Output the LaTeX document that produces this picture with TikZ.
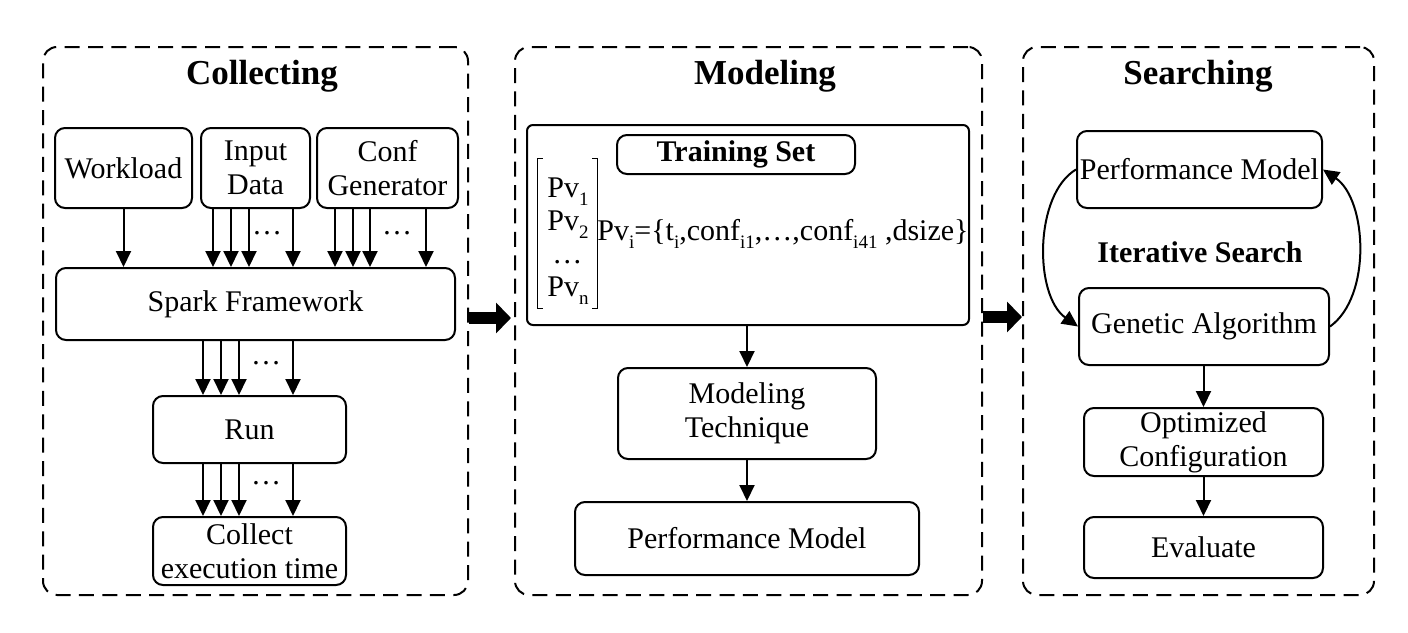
\documentclass[tikz,border=0pt]{standalone}
\usepackage{fontspec}
\setmainfont{Liberation Serif}
\usetikzlibrary{arrows.meta,calc}
\newcommand\nsz{\fontsize{15}{17}\selectfont}
\newcommand\tsz{\fontsize{17.5}{20}\selectfont\bfseries}
\newcommand\sbx[1]{\raisebox{-0.28em}{\fontsize{9.5}{10}\selectfont #1}}
\begin{document}
\begin{tikzpicture}[x=0.5pt,y=-0.5pt,
  panel/.style={draw,line width=1pt,dash pattern=on 7.5pt off 4.2pt,rounded corners=7pt,inner sep=0pt},
  box/.style={draw,line width=1pt,rounded corners=5pt,inner sep=0pt,align=center,font=\nsz},
  arr/.style={line width=1pt,-{Triangle[length=8pt,width=7.5pt]}},
  bigarr/.style={line width=6pt,-{Triangle[length=7.5pt,width=15pt]}},
  ttl/.style={font=\tsz,anchor=base,inner sep=0pt},
  lbl/.style={font=\nsz,inner sep=0pt}]
\useasboundingbox (0,0) rectangle (1408,632);
% panels
\node[panel,minimum width=212.5pt,minimum height=274pt] (col) at (255.5,321) {};
\node[panel,minimum width=233.5pt,minimum height=274pt] (mod) at (748.5,321) {};
\node[panel,minimum width=175.5pt,minimum height=274pt] (sea) at (1198.5,321) {};
\node[ttl] (tcol) at (262,84) {Collecting};
\node[ttl] (tmod) at (765,84) {Modeling};
\node[ttl] (tsea) at (1198,84) {Searching};
% collecting
\node[box,minimum width=68.5pt,minimum height=40pt] (wl) at (123.5,168) {Workload};
\node[box,minimum width=54.5pt,minimum height=40pt] (inp) at (255.5,168) {Input\\Data};
\node[box,minimum width=70.5pt,minimum height=40pt] (conf) at (387.5,168) {Conf\\Generator};
\node[box,minimum width=199.5pt,minimum height=36pt] (spark) at (255.5,304) {Spark Framework};
\node[box,minimum width=96.5pt,minimum height=33.5pt] (run) at (249.5,429.5) {Run};
\node[box,minimum width=96.5pt,minimum height=34pt] (coll) at (249.5,551) {Collect\\execution time};
\draw[arr] (wl.south) -- (wl.south |- spark.north);
\foreach \x [count=\i] in {213,231,249,293} {
  \coordinate (ia\i) at (\x,0);
  \draw[arr] (inp.south -| ia\i) -- (spark.north -| ia\i);}
\foreach \x [count=\i] in {335,353,370,426} {
  \coordinate (ca\i) at (\x,0);
  \draw[arr] (conf.south -| ca\i) -- (spark.north -| ca\i);}
\foreach \x [count=\i] in {203,221,239,293} {
  \coordinate (ra\i) at (\x,0);
  \draw[arr] (spark.south -| ra\i) -- (run.north -| ra\i);
  \draw[arr] (run.south -| ra\i) -- (coll.north -| ra\i);}
\node[lbl,anchor=base] (d1) at (267,234) {\ldots};
\node[lbl,anchor=base] (d2) at (397,234) {\ldots};
\node[lbl,anchor=base] (d3) at (266,364) {\ldots};
\node[lbl,anchor=base] (d4) at (266,484) {\ldots};
% modeling
\node[draw,line width=1pt,rounded corners=3pt,inner sep=0pt,minimum width=221pt,minimum height=100pt] (train) at (748,225) {};
\node[box,minimum width=119pt,minimum height=19.5pt,font=\nsz\bfseries] (tset) at (736,154.5) {Training Set};
\node[inner sep=0pt,minimum width=29.5pt,minimum height=74.5pt] (pvb) at (567.5,233.5) {};
\draw[line width=0.6pt] (pvb.north west) ++(5,0) -- (pvb.north west) -- (pvb.south west) -- ++(5,0);
\draw[line width=0.6pt] (pvb.north east) ++(-5,0) -- (pvb.north east) -- (pvb.south east) -- ++(-5,0);
\node[inner sep=0pt,align=left,font=\fontsize{15}{16.5}\selectfont] (pv) at (568,241) {Pv\sbx{1}\\Pv\sbx{2}\\\,\ldots\\Pv\sbx{n}};
\node[lbl] (form) at (783,234) {Pv\sbx{i}=\{t\sbx{i},conf\sbx{i1},\ldots,conf\sbx{i41} ,dsize\}};
\node[box,minimum width=129pt,minimum height=45.5pt] (mt) at (747,413.5) {Modeling\\Technique};
\node[box,minimum width=172pt,minimum height=36.5pt] (pmM) at (747,538.5) {Performance Model};
\draw[arr] (train.south -| mt.north) -- (mt.north);
\draw[arr] (mt.south) -- (pmM.north);
% searching
\node[box,minimum width=122.5pt,minimum height=38.5pt] (pmS) at (1199.5,169.5) {Performance Model};
\node[lbl,font=\nsz\bfseries] (it) at (1200,252) {Iterative Search};
\node[box,minimum width=125pt,minimum height=38.5pt] (ga) at (1204,326.5) {Genetic Algorithm};
\node[box,minimum width=119.5pt,minimum height=34pt] (opt) at (1203.5,442) {Optimized\\Configuration};
\node[box,minimum width=119.5pt,minimum height=30.5pt] (ev) at (1203.5,547.5) {Evaluate};
\draw[arr] (pmS.west) .. controls +(-42,25) and +(-44,-31) .. (ga.west);
\draw[arr] (ga.east) .. controls +(42,-30) and +(44,30) .. (pmS.east);
\draw[arr] (ga.south -| opt.north) -- (opt.north);
\draw[arr] (opt.south) -- (ev.north);
% big arrows
\coordinate (ya) at (0,318);
\coordinate (yb) at (0,317);
\draw[bigarr,shorten >=1.5pt] (col.east |- ya) -- (mod.west |- ya);
\draw[bigarr] (mod.east |- yb) -- (sea.west |- yb);
\end{tikzpicture}
\end{document}
